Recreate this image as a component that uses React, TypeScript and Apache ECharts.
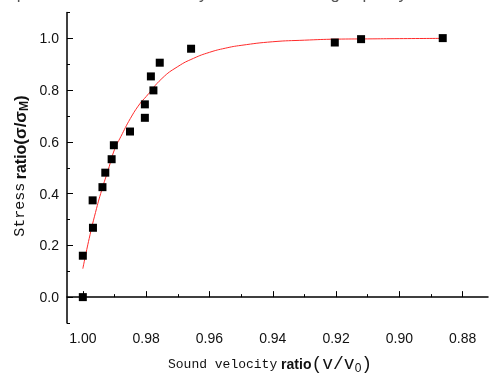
import React, { useEffect, useRef } from "react";
import * as echarts from "echarts";

const pointV = [1.0, 1.0, 0.9968, 0.9969, 0.9938, 0.9929, 0.9909, 0.9902, 0.9851, 0.9804, 0.9804, 0.9777, 0.9785, 0.9757, 0.9658, 0.9204, 0.9121, 0.8863];
const pointS = [0.0, 0.16, 0.268, 0.374, 0.425, 0.481, 0.533, 0.587, 0.64, 0.693, 0.745, 0.799, 0.853, 0.906, 0.96, 0.984, 0.997, 1.001];

const curveV = [1.0, 0.998, 0.996, 0.994, 0.992, 0.99, 0.988, 0.985, 0.982, 0.98, 0.975, 0.97, 0.965, 0.96, 0.955, 0.95, 0.94, 0.93, 0.92, 0.91, 0.9, 0.886];
const curveS = [0.11, 0.226, 0.327, 0.415, 0.491, 0.57, 0.62, 0.69, 0.747, 0.775, 0.845, 0.891, 0.923, 0.946, 0.962, 0.973, 0.987, 0.993, 0.997, 0.998, 0.999, 1.0];

const xMajorTicks = [1.0, 0.98, 0.96, 0.94, 0.92, 0.9, 0.88];
const xMinorTicks = [0.99, 0.97, 0.95, 0.93, 0.91, 0.89];
const yMajorTicks = [0.0, 0.2, 0.4, 0.6, 0.8, 1.0];
const yMinorTicks = [-0.1, 0.1, 0.3, 0.5, 0.7, 0.9, 1.1];

const labelFont = "'Liberation Sans', Arial, sans-serif";
const monoFont = "'Liberation Mono', 'Courier New', monospace";

export default function App() {
  const ref = useRef<HTMLDivElement>(null);
  useEffect(() => {
    if (!ref.current) return;
    const chart = echarts.init(ref.current, undefined, { renderer: "svg" });
    const axisLine = { show: true, lineStyle: { color: "#000", width: 1.5 } };
    const xBase = {
      type: "value" as const,
      inverse: true,
      min: 0.872,
      max: 1.005,
      splitLine: { show: false },
    };
    const yBase = {
      type: "value" as const,
      min: -0.1,
      max: 1.1,
      splitLine: { show: false },
    };
    chart.setOption({
      animation: false,
      grid: { left: 67, right: 2, top: 12.5, bottom: 53 },
      xAxis: [
        {
          ...xBase,
          position: "bottom",
          axisLine,
          axisTick: { inside: true, length: 6, lineStyle: { color: "#000", width: 1 }, customValues: xMajorTicks },
          axisLabel: {
            customValues: xMajorTicks,
            formatter: (v: number) => v.toFixed(2),
            fontFamily: labelFont,
            fontSize: 14,
            color: "#111",
            margin: 8,
          },
        },
        {
          ...xBase,
          position: "bottom",
          axisLine: { show: false },
          axisTick: { inside: true, length: 3, lineStyle: { color: "#000", width: 1 }, customValues: xMinorTicks },
          axisLabel: { show: false },
        },
      ],
      yAxis: [
        {
          ...yBase,
          position: "left",
          axisLine,
          axisTick: { inside: true, length: 6, lineStyle: { color: "#000", width: 1 }, customValues: yMajorTicks },
          axisLabel: {
            customValues: yMajorTicks,
            formatter: (v: number) => v.toFixed(1),
            fontFamily: labelFont,
            fontSize: 14,
            color: "#111",
            margin: 8,
          },
        },
        {
          ...yBase,
          position: "left",
          axisLine: { show: false },
          axisTick: { inside: true, length: 3, lineStyle: { color: "#000", width: 1 }, customValues: yMinorTicks },
          axisLabel: { show: false },
        },
      ],
      series: [
        {
          type: "line",
          data: curveV.map((v, i) => [v, curveS[i]]),
          smooth: true,
          showSymbol: false,
          lineStyle: { color: "#ff2a2a", width: 1 },
          z: 2,
        },
        {
          type: "scatter",
          data: pointV.map((v, i) => [v, pointS[i]]),
          symbol: "rect",
          symbolSize: 8,
          itemStyle: { color: "#000", opacity: 1 },
          z: 3,
        },
      ],
      graphic: [
        {
          type: "text",
          x: 407,
          y: 2,
          style: {
            text: "Relationship between sound velocity ratio and bearing capacity",
            align: "right",
            verticalAlign: "bottom",
            fontFamily: labelFont,
            fontSize: 17,
            fill: "#555",
          },
        },
        {
          type: "text",
          x: 168,
          y: 364,
          style: {
            text: "{a|Sound velocity}{b| ratio}{c|(v/v}{s|0}{c|)}",
            align: "left",
            verticalAlign: "middle",
            rich: {
              a: { fontFamily: monoFont, fontSize: 13, fill: "#111" },
              b: { fontFamily: labelFont, fontSize: 14, fontWeight: "bold", fill: "#111" },
              c: { fontFamily: monoFont, fontSize: 18, fill: "#111" },
              s: { fontFamily: labelFont, fontSize: 12, fill: "#111", padding: [7, 0, 0, 0] },
            },
          },
        },
        {
          type: "text",
          x: 20,
          y: 166,
          rotation: Math.PI / 2,
          style: {
            text: "{a|Stress} {b|ratio}{c|(σ/σ}{s|M}{c|)}",
            align: "center",
            verticalAlign: "middle",
            rich: {
              a: { fontFamily: monoFont, fontSize: 15, fill: "#111" },
              b: { fontFamily: labelFont, fontSize: 16, fontWeight: "bold", fill: "#111" },
              c: { fontFamily: labelFont, fontSize: 17, fontWeight: "bold", fill: "#111" },
              s: { fontFamily: labelFont, fontSize: 12, fontWeight: "bold", fill: "#111", padding: [8, 0, 0, 0] },
            },
          },
        },
      ],
    });
    return () => chart.dispose();
  }, []);
  return <div ref={ref} style={{ position: "fixed", left: 0, top: 0, width: 490, height: 376 }} />;
}
